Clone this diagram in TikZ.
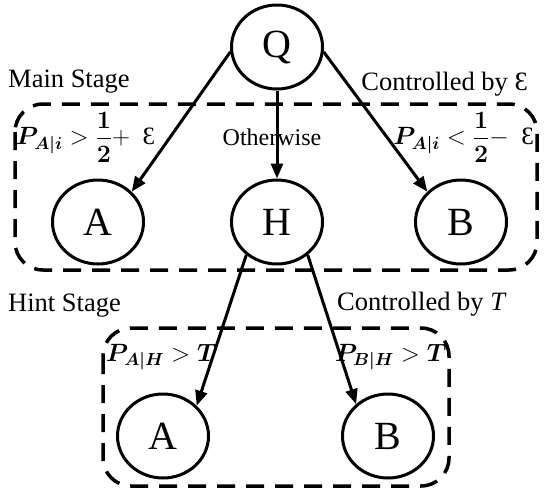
\RequirePackage{fix-cm}
\documentclass[tikz,border=0pt]{standalone}
\usepackage{amsmath}
\usepackage{bm}
\usepackage{fontspec}
\setmainfont{Liberation Serif}
\usetikzlibrary{arrows.meta,shapes.geometric}
\begin{document}
\begin{tikzpicture}[x=1pt,y=-1pt,
  st/.style={ellipse,draw,line width=3pt,minimum width=91pt,minimum height=84pt,inner sep=0pt,font=\fontsize{40}{44}\selectfont},
  arr/.style={line width=3pt,-{Triangle[length=15pt,width=12pt]}},
  stagebox/.style={draw,line width=3.5pt,dash pattern=on 18pt off 11pt,rounded corners=28pt},
  lbl/.style={font=\fontsize{26.5}{30}\selectfont,inner sep=0pt},
  mlbl/.style={font=\fontsize{25}{28}\selectfont,inner sep=0pt},
  ]
\useasboundingbox (0,0) rectangle (544,491);
\draw[stagebox] (15,104) rectangle (537,270);
\draw[stagebox] (103,328) rectangle (449,486);

\node[st] (Q) at (277,47) {Q};
\node[st] (A1) at (98,222) {A};
\node[st] (H) at (277,222) {H};
\node[st] (B1) at (461,222) {B};
\node[st] (A2) at (163,436) {A};
\node[st] (B2) at (388,436) {B};

\draw[arr] (Q.186) -- (A1.42);
\draw[arr] (Q.south) -- (H.north);
\draw[arr] (Q.-6) -- (B1.138);
\draw[arr] (H.227) -- (A2.42);
\draw[arr] (H.313) -- (B2.135);

\node[lbl,anchor=base west] (ms) at (8,87) {Main Stage};
\node[lbl,anchor=base east] (ce) at (528,90) {Controlled by Ɛ};
\node[lbl,anchor=base west] (hs) at (8,311) {Hint Stage};
\node[lbl,anchor=base west] (ct) at (337,310) {Controlled by \textit{T}};

\node[mlbl,anchor=west] (m1) at (16,137) {$\displaystyle \bm{P_{A|i}} > \frac{\bm 1}{\bm 2} +$ \ Ɛ};
\node[mlbl,anchor=east] (m2) at (534,137) {$\displaystyle \bm{P_{A|i}} < \frac{\bm 1}{\bm 2} -$ \ Ɛ};
\node[mlbl,anchor=center,font=\fontsize{24}{28}\selectfont] (ow) at (272,137) {Otherwise};
\node[mlbl,anchor=west] (h1) at (106,357) {$\bm{P_{A|H}} > \bm{T}$};
\node[mlbl,anchor=east] (h2) at (447,357) {$\bm{P_{B|H}} > \bm{T}$};
\end{tikzpicture}
\end{document}
